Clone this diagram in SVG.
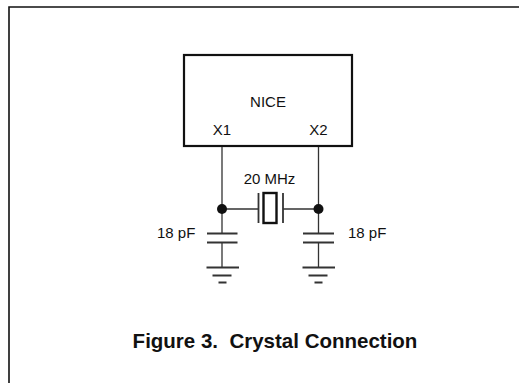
<svg xmlns="http://www.w3.org/2000/svg" width="519" height="383" viewBox="0 0 519 383">
<style>
.t{font-family:"Liberation Sans",Arial,sans-serif;font-size:15px;fill:#111}
.w{stroke:#333;stroke-width:1.3;fill:none}
.p{stroke:#333;stroke-width:1.8;fill:none}
</style>
<rect width="519" height="383" fill="#fff"/>
<path d="M9,383 V7 H519" stroke="#111" stroke-width="1.6" fill="none"/>
<g id="nice">
<rect x="184" y="55" width="168" height="91" fill="#fff" stroke="#111" stroke-width="2.2"/>
<text class="t" x="268" y="107" text-anchor="middle">NICE</text>
<text class="t" x="222" y="135" text-anchor="middle">X1</text>
<text class="t" x="318.5" y="135" text-anchor="middle">X2</text>
</g>
<g id="connectors">
<path class="w" d="M222,147 V233 M318.5,147 V233 M222,209 H258 M283,209 H318.5"/>
<path class="w" d="M222,243 V267 M318.5,243 V267"/>
<circle cx="222" cy="209" r="5" fill="#111"/>
<circle cx="318.5" cy="209" r="5" fill="#111"/>
</g>
<g id="crystal">
<path class="p" d="M258.5,193 V223 M283,193 V223"/>
<rect x="263.5" y="193" width="13" height="30" fill="#fff" stroke="#111" stroke-width="2.4"/>
<text class="t" x="269.5" y="184" text-anchor="middle">20 MHz</text>
</g>
<g id="c1">
<path class="p" d="M207,233.5 H237.5 M207,242.5 H237.5"/>
<text class="t" x="157" y="237.5">18 pF</text>
</g>
<g id="c2">
<path class="p" d="M303,233.5 H334 M303,242.5 H334"/>
<text class="t" x="348" y="237.5">18 pF</text>
</g>
<g id="gnd1">
<path class="p" d="M206.5,267.5 H239 M212.5,275.5 H231.5 M218.5,282.5 H226.5"/>
</g>
<g id="gnd2">
<path class="p" d="M302.5,267.5 H335 M308.5,275.5 H327.5 M314.5,282.5 H322.5"/>
</g>
<text x="275" y="347.5" text-anchor="middle" xml:space="preserve" style="font-family:'Liberation Sans',Arial,sans-serif;font-size:20.5px;font-weight:bold;fill:#111">Figure 3.  Crystal Connection</text>
</svg>
